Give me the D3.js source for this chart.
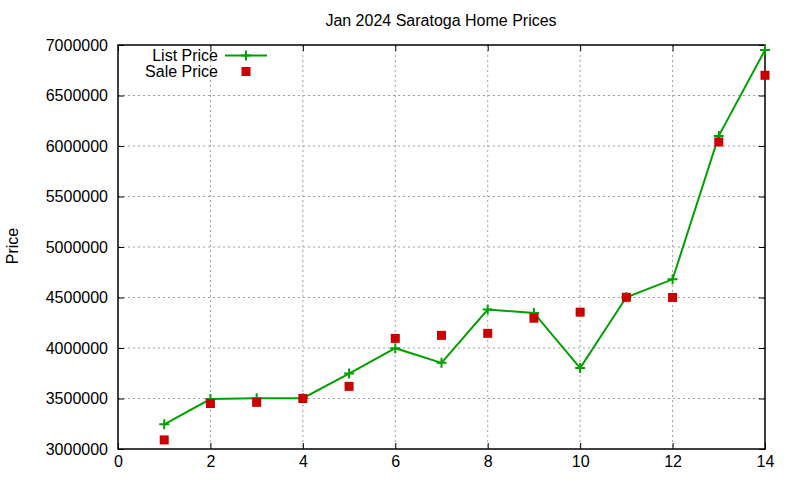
<!DOCTYPE html>
<html>
<head>
<meta charset="utf-8">
<script src="https://cdn.jsdelivr.net/npm/d3@7"></script>
<style>
  body { margin: 0; background: #fff; }
  svg { font-family: "Liberation Sans", Arial, sans-serif; }
</style>
</head>
<body>
<div class="chart"></div>
<script>
// data
var homes = [1, 2, 3, 4, 5, 6, 7, 8, 9, 10, 11, 12, 13, 14];
var listPrice = [3245000, 3495000, 3503000, 3503000, 3747000, 3998000, 3853000,
                 4380000, 4347000, 3801000, 4502000, 4680000, 6100000, 6950000];
var salePrice = [3090000, 3450000, 3462000, 3500000, 3620000, 4095000, 4125000,
                 4145000, 4295000, 4355000, 4502000, 4500000, 6040000, 6700000];
var xTicks = [0, 2, 4, 6, 8, 10, 12, 14];
var yTicks = [3000000, 3500000, 4000000, 4500000, 5000000, 5500000, 6000000, 6500000, 7000000];

var width = 800, height = 480;
var margin = { top: 45, right: 35, bottom: 31, left: 118 };
var w = width - margin.left - margin.right;
var h = height - margin.top - margin.bottom;

var green = "#00a000", red = "#cc0000";
var fontSize = "16px";

var svg = d3.select(".chart")
  .append("svg")
    .attr("width", width)
    .attr("height", height);

var g = svg.append("g")
    .attr("transform", "translate(" + margin.left + "," + margin.top + ")");

var x = d3.scaleLinear().domain([0, 14]).range([0, w]);
var y = d3.scaleLinear().domain([3000000, 7000000]).range([h, 0]);

// grid
g.selectAll(".gx")
  .data(xTicks.slice(1, -1)).enter()
  .append("line")
    .attr("x1", function(d) { return x(d); })
    .attr("x2", function(d) { return x(d); })
    .attr("y1", 0).attr("y2", h)
    .style("stroke", "#a0a0a0")
    .style("stroke-dasharray", "2,3");

g.selectAll(".gy")
  .data(yTicks.slice(1, -1)).enter()
  .append("line")
    .attr("x1", 0).attr("x2", w)
    .attr("y1", function(d) { return y(d); })
    .attr("y2", function(d) { return y(d); })
    .style("stroke", "#a0a0a0")
    .style("stroke-dasharray", "2,3");

// axes, gnuplot style: ticks point inward and are mirrored
var axisStyle = function(sel) {
  sel.select(".domain").remove();
  sel.selectAll("line").style("stroke", "#000");
  sel.selectAll("text")
    .style("font-size", fontSize)
    .style("font-family", "Liberation Sans, Arial, sans-serif")
    .style("fill", "#000");
};

g.append("g")
  .attr("transform", "translate(0," + h + ")")
  .call(d3.axisBottom(x).tickValues(xTicks).tickSizeInner(-6).tickPadding(7).tickSizeOuter(0))
  .call(axisStyle);

g.append("g")
  .call(d3.axisLeft(y).tickValues(yTicks).tickFormat(d3.format("d"))
    .tickSizeInner(-6).tickPadding(10).tickSizeOuter(0))
  .call(axisStyle);

g.append("g")
  .call(d3.axisTop(x).tickValues(xTicks).tickSizeInner(-6).tickSizeOuter(0).tickFormat(""))
  .call(axisStyle);

g.append("g")
  .attr("transform", "translate(" + w + ",0)")
  .call(d3.axisRight(y).tickValues(yTicks).tickSizeInner(-6).tickSizeOuter(0).tickFormat(""))
  .call(axisStyle);

g.append("rect")
  .attr("width", w).attr("height", h)
  .style("fill", "none")
  .style("stroke", "#000")
  .style("stroke-width", 1.5);

// list price line with + markers
var line = d3.line()
  .x(function(d, i) { return x(homes[i]); })
  .y(function(d) { return y(d); });

g.append("path")
  .datum(listPrice)
  .attr("d", line)
  .style("fill", "none")
  .style("stroke", green)
  .style("stroke-width", 2);

function plus(sel, cx, cy) {
  sel.append("path")
    .attr("d", "M" + (cx - 5) + "," + cy + "H" + (cx + 5) + "M" + cx + "," + (cy - 5) + "V" + (cy + 5))
    .style("stroke", green)
    .style("stroke-width", 2);
}

listPrice.forEach(function(d, i) { plus(g, x(homes[i]), y(d)); });

// sale price squares
g.selectAll(".sale")
  .data(salePrice).enter()
  .append("rect")
    .attr("x", function(d, i) { return x(homes[i]) - 4.5; })
    .attr("y", function(d) { return y(d) - 4.5; })
    .attr("width", 9).attr("height", 9)
    .style("fill", red);

// legend
var leg = svg.append("g");
leg.append("text").attr("x", 218).attr("y", 61).attr("text-anchor", "end")
  .style("font-size", fontSize).text("List Price");
leg.append("line").attr("x1", 225).attr("x2", 267).attr("y1", 55.5).attr("y2", 55.5)
  .style("stroke", green).style("stroke-width", 2);
plus(leg, 246, 55.5);
leg.append("text").attr("x", 218).attr("y", 77).attr("text-anchor", "end")
  .style("font-size", fontSize).text("Sale Price");
leg.append("rect").attr("x", 241.5).attr("y", 67).attr("width", 9).attr("height", 9)
  .style("fill", red);

// title and y label
svg.append("text")
  .attr("x", 441).attr("y", 26)
  .attr("text-anchor", "middle")
  .style("font-size", fontSize)
  .text("Jan 2024 Saratoga Home Prices");

svg.append("text")
  .attr("transform", "translate(18,246) rotate(-90)")
  .attr("text-anchor", "middle")
  .style("font-size", fontSize)
  .text("Price");
</script>
</body>
</html>
